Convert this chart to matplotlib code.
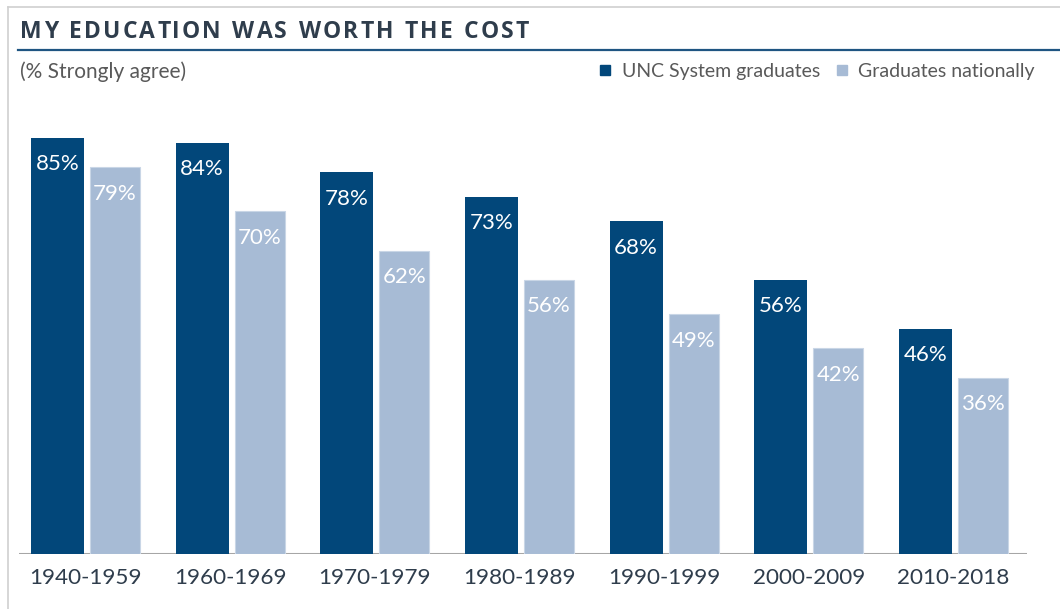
import matplotlib.pyplot as plt
from matplotlib.lines import Line2D
from matplotlib.patches import Rectangle
import numpy as np

plt.rcParams['font.family'] = ['Lato', 'DejaVu Sans']

# Data
periods = ['1940-1959', '1960-1969', '1970-1979', '1980-1989',
           '1990-1999', '2000-2009', '2010-2018']
unc_grads = [85, 84, 78, 73, 68, 56, 46]
national_grads = [79, 70, 62, 56, 49, 42, 36]

title = 'MY EDUCATION WAS WORTH THE COST'
subtitle = '(% Strongly agree)'
series_names = ['UNC System graduates', 'Graduates nationally']

DARK = '#02477a'
LIGHT = '#a7bbd5'
TEXT_DARK = '#2f3d4c'
TEXT_GRAY = '#595959'

W, H = 1060, 609
fig = plt.figure(figsize=(W / 100, H / 100), dpi=100)

# plot area (pixel based placement)
base_px, top_px = 554, 110
left_px, right_px = 19, 1027
ax = fig.add_axes([left_px / W, 1 - base_px / H,
                   (right_px - left_px) / W, (base_px - top_px) / H])

step = 144.67  # pixels per group
x = np.arange(len(periods))
dark_w, light_w = 53 / step, 50 / step
dark_off, light_off = -54.5 / step, 4.5 / step

b1 = ax.bar(x + dark_off, unc_grads, width=dark_w, align='edge',
            color=DARK, zorder=2)
b2 = ax.bar(x + light_off, national_grads, width=light_w, align='edge',
            color=LIGHT, edgecolor='#c9d6e6', linewidth=0.8, zorder=2)

for bars, vals in ((b1, unc_grads), (b2, national_grads)):
    for rect, v in zip(bars, vals):
        ax.annotate(f'{v}%', (rect.get_x() + rect.get_width() / 2, v),
                    xytext=(0, -19), textcoords='offset points',
                    ha='center', va='center', color='white', fontsize=16)

ax.axhline(0, color='#a6a6a6', lw=2.2, zorder=1)
ax.set_xlim((left_px - 85.5) / step, (right_px - 85.5) / step)
ax.set_ylim(0, (base_px - top_px) / 4.894)
ax.set_xticks(x)
ax.set_xticklabels(periods, fontsize=16.2, color=TEXT_DARK)
ax.tick_params(axis='x', length=0, pad=10)
ax.set_yticks([])
for s in ax.spines.values():
    s.set_visible(False)
ax.patch.set_alpha(0)

# frame border (left and top)
fig.add_artist(Line2D([7.5 / W, 7.5 / W], [0, 1 - 7 / H], color='#d0d0d0', lw=1.2))
fig.add_artist(Line2D([7.5 / W, 1], [1 - 7 / H, 1 - 7 / H], color='#d0d0d0', lw=1.2))

# title underline
fig.add_artist(Line2D([18 / W, 1], [1 - 50 / H, 1 - 50 / H], color='#1f5582', lw=1.6))

# letter-spaced title, heavier face
renderer = fig.canvas.get_renderer()
chars = []
for ch in title:
    t = fig.text(0, 1 - 37.5 / H, ch if ch != ' ' else 'I', fontsize=16.5,
                 family=['Open Sans', 'DejaVu Sans'], fontweight='bold',
                 color=TEXT_DARK, va='baseline')
    w = t.get_window_extent(renderer).width
    if ch == ' ':
        t.set_text(' ')
        w = w * 1.0
    chars.append((t, w))
total = sum(w for _, w in chars)
gap = (509 - total) / (len(chars) - 1)
xpos = 20
for t, w in chars:
    t.set_x(xpos / W)
    xpos += w + gap

fig.text(20 / W, 1 - 72 / H, subtitle, fontsize=15, color=TEXT_GRAY, va='center')

# legend
leg_y = 71
for sx, col, label, tx in ((600, DARK, series_names[0], 622),
                           (837, LIGHT, series_names[1], 858)):
    fig.add_artist(Rectangle((sx / W, 1 - (leg_y + 4) / H), 10 / W, 10 / H,
                             color=col, transform=fig.transFigure))
    fig.text(tx / W, 1 - leg_y / H, label, fontsize=14, color=TEXT_GRAY, va='center')

fig.savefig('out.png', dpi=100)
